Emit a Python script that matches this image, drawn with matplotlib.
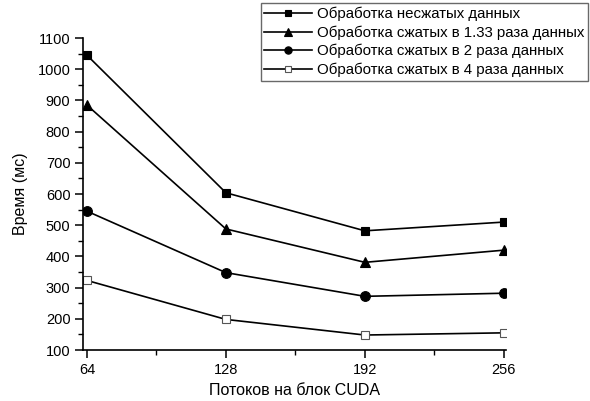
import matplotlib.pyplot as plt
from matplotlib.ticker import MultipleLocator

plt.rcParams["font.family"] = ["Liberation Sans", "DejaVu Sans"]

threads = [64, 128, 192, 256]
uncompressed = [1045, 604, 482, 510]
compressed_133 = [885, 488, 381, 420]
compressed_2 = [545, 348, 272, 282]
compressed_4 = [323, 198, 148, 155]

labels = [
    "Обработка несжатых данных",
    "Обработка сжатых в 1.33 раза данных",
    "Обработка сжатых в 2 раза данных",
    "Обработка сжатых в 4 раза данных",
]

fig = plt.figure(figsize=(5.9, 4.01), dpi=100)
ax = fig.add_axes([83 / 590, 1 - 350 / 401, (506 - 83) / 590, (350 - 38) / 401])

styles = [
    dict(marker="s", mfc="black", ms=6),
    dict(marker="^", mfc="black", ms=7),
    dict(marker="o", mfc="black", ms=7),
    dict(marker="s", mfc="white", ms=6, mec="#555555"),
]
series = [uncompressed, compressed_133, compressed_2, compressed_4]

for vals, lab, st in zip(series, labels, styles):
    mec = st.pop("mec", "black")
    ax.plot(threads, vals, color="black", lw=1.2, label=lab, mec=mec, mew=0.8, **st)

ax.set_xlim(62.2, 257)
ax.set_ylim(100, 1100)
ax.set_xticks(threads)
ax.xaxis.set_minor_locator(MultipleLocator(32))
ax.yaxis.set_major_locator(MultipleLocator(100))
ax.yaxis.set_minor_locator(MultipleLocator(50))

for s in ("top", "right"):
    ax.spines[s].set_visible(False)
ax.spines["left"].set_linewidth(1.2)
ax.spines["bottom"].set_linewidth(1.2)

ax.tick_params(which="major", direction="out", length=6, width=1.1, labelsize=10.5, pad=3)
ax.tick_params(which="minor", direction="out", length=3.5, width=1.0)

ax.set_xlabel("Потоков на блок CUDA", fontsize=11.5, labelpad=5)
ax.set_ylabel("Время (мс)", fontsize=11.5, labelpad=7)

leg = fig.legend(
    loc="upper right",
    bbox_to_anchor=(588 / 590, 1 - 3 / 401),
    fontsize=10.8,
    frameon=True,
    fancybox=False,
    edgecolor="#444444",
    handlelength=3.2,
    handletextpad=0.3,
    labelspacing=0.28,
    borderpad=0.25,
    borderaxespad=0,
    markerscale=0.75,
)
leg.get_frame().set_linewidth(1.0)

fig.savefig("out.png", dpi=100)
